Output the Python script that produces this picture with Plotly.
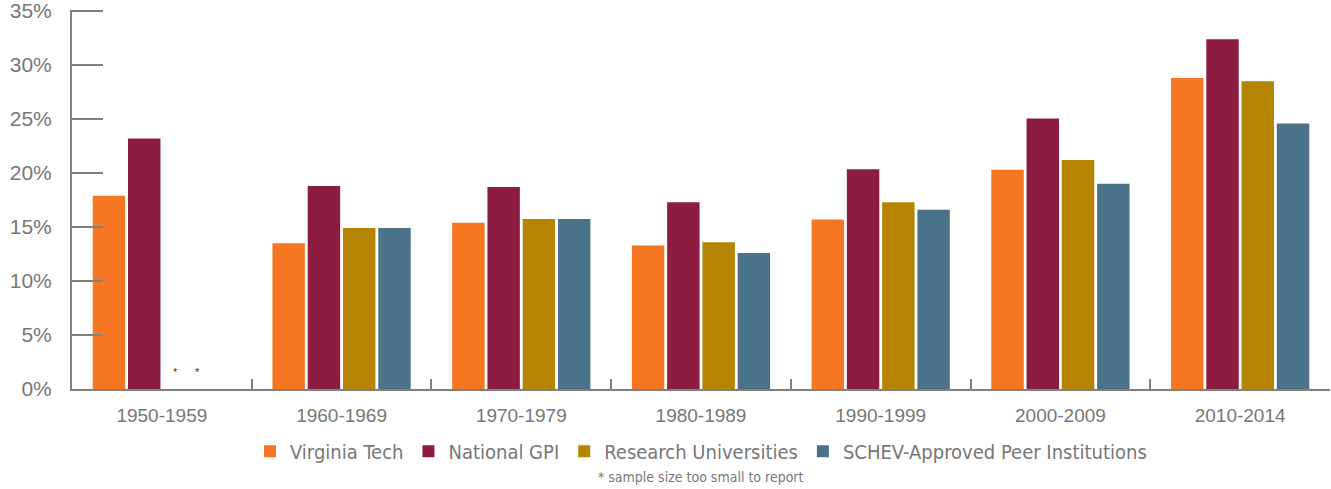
import plotly.graph_objects as go

categories = ["1950-1959", "1960-1969", "1970-1979", "1980-1989", "1990-1999", "2000-2009", "2010-2014"]
virginia_tech = [17.9, 13.5, 15.4, 13.3, 15.7, 20.3, 28.8]
national_gpi = [23.2, 18.8, 18.7, 17.3, 20.35, 25.05, 32.4]
research_univ = [None, 14.9, 15.75, 13.6, 17.3, 21.2, 28.5]
schev_peers = [None, 14.9, 15.75, 12.6, 16.6, 19.0, 24.6]
series_names = ["Virginia Tech", "National GPI", "Research Universities", "SCHEV-Approved Peer Institutions"]
series_colors = ["#F57722", "#8D1D40", "#B58400", "#4A7389"]
y_ticks = [0, 5, 10, 15, 20, 25, 30, 35]
footnote = "* sample size too small to report"

fig = go.Figure()
for name, vals, col in zip(series_names, [virginia_tech, national_gpi, research_univ, schev_peers], series_colors):
    fig.add_trace(go.Bar(x=categories, y=vals, name=name, marker=dict(color=col, line=dict(width=0))))

# asterisks for missing values in first category
for off in [0.078, 0.2]:
    fig.add_annotation(x=off, y=1.6, xref="x", yref="y", text="*", showarrow=False,
                       font=dict(size=11, color="#333333", family="Liberation Sans"))

fig.add_annotation(x=0.5, y=-0.232, xref="paper", yref="paper", xanchor="center", yanchor="middle",
                   text=footnote, showarrow=False,
                   font=dict(size=14, color="#777777", family="DejaVu Sans Condensed, Liberation Sans"))

fig.update_layout(
    width=1331, height=489,
    margin=dict(l=72, r=1, t=10, b=100, autoexpand=False),
    paper_bgcolor="white", plot_bgcolor="white",
    barmode="group", bargap=0.215, bargroupgap=0.08,
    font=dict(family="Liberation Sans", color="#777777"),
    legend=dict(orientation="h", x=0.5, xanchor="center", y=-0.164, yanchor="middle",
                font=dict(size=20, color="#777777", family="DejaVu Sans Condensed, Liberation Sans"),
                itemsizing="constant", traceorder="normal"),
    xaxis=dict(showline=True, linecolor="#808080", linewidth=2, ticks="inside", tickson="boundaries",
               ticklen=10, tickcolor="#808080", tickwidth=2, showgrid=False, automargin=False,
               tickfont=dict(size=19, color="#777777"), ticklabelstandoff=8, fixedrange=True),
    yaxis=dict(range=[0, 35.1], tickvals=y_ticks, ticktext=[f"{v}%" for v in y_ticks],
               showline=True, linecolor="#808080", linewidth=2, ticks="inside", ticklen=31,
               tickcolor="#808080", tickwidth=2, showgrid=False, zeroline=False, automargin=False,
               tickfont=dict(size=21, color="#777777"), ticklabelstandoff=14,
               ticklabeloverflow="allow", fixedrange=True),
)

fig.write_html("out.html", config={"displayModeBar": False, "staticPlot": True},
               post_script="document.body.style.margin='0';document.body.style.overflow='hidden';")
